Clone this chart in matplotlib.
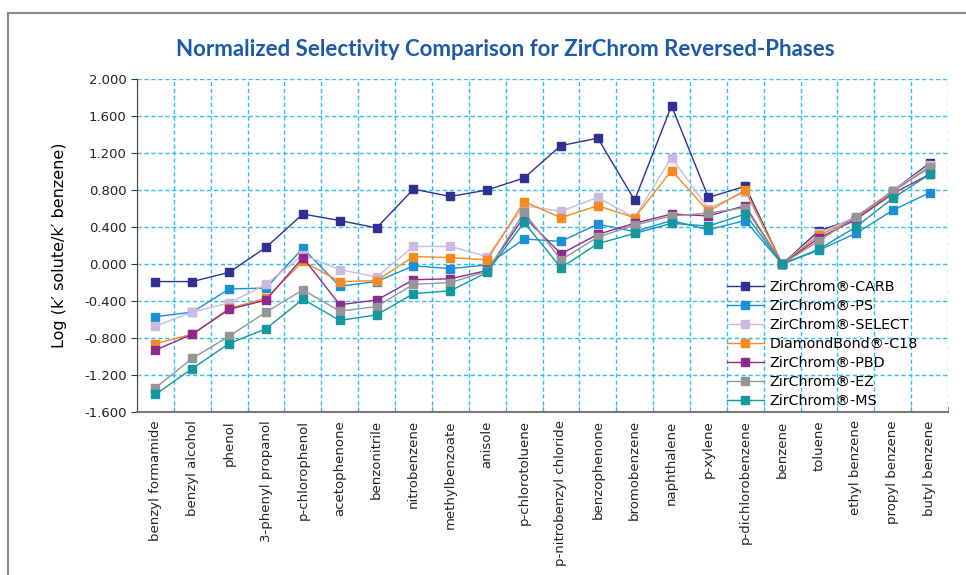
import matplotlib
matplotlib.use('Agg')
import matplotlib.pyplot as plt
from matplotlib.patches import Rectangle
import numpy as np

solutes = ['benzyl formamide', 'benzyl alcohol', 'phenol', '3-phenyl propanol',
           'p-chlorophenol', 'acetophenone', 'benzonitrile', 'nitrobenzene',
           'methylbenzoate', 'anisole', 'p-chlorotoluene', 'p-nitrobenzyl chloride',
           'benzophenone', 'bromobenzene', 'naphthalene', 'p-xylene',
           'p-dichlorobenzene', 'benzene', 'toluene', 'ethyl benzene',
           'propyl benzene', 'butyl benzene']

carb = [-0.19, -0.19, -0.09, 0.18, 0.54, 0.47, 0.39, 0.81, 0.73, 0.80, 0.93, 1.28,
        1.36, 0.69, 1.71, 0.72, 0.84, 0.00, 0.36, 0.49, 0.79, 1.09]
ps = [-0.57, -0.52, -0.27, -0.26, 0.17, -0.24, -0.19, -0.02, -0.05, -0.01, 0.27, 0.245,
      0.43, 0.35, 0.47, 0.37, 0.47, 0.00, 0.15, 0.33, 0.58, 0.77]
select = [-0.67, -0.52, -0.42, -0.22, 0.10, -0.06, -0.14, 0.19, 0.19, 0.08, 0.63, 0.57,
          0.72, 0.50, 1.15, 0.60, 0.78, 0.00, 0.33, 0.51, 0.79, 1.07]
c18 = [-0.86, -0.76, -0.48, -0.37, 0.03, -0.19, -0.18, 0.08, 0.07, 0.045, 0.675, 0.50,
       0.63, 0.50, 1.01, 0.57, 0.80, 0.00, 0.31, 0.49, 0.78, 1.05]
pbd = [-0.93, -0.76, -0.49, -0.39, 0.07, -0.44, -0.39, -0.17, -0.16, -0.07, 0.51, 0.11,
       0.32, 0.44, 0.54, 0.52, 0.63, 0.00, 0.28, 0.48, 0.76, 0.97]
ez = [-1.34, -1.02, -0.78, -0.52, -0.28, -0.51, -0.46, -0.22, -0.20, -0.08, 0.56, 0.045,
      0.29, 0.42, 0.52, 0.55, 0.61, 0.00, 0.25, 0.51, 0.79, 1.04]
ms = [-1.41, -1.13, -0.86, -0.70, -0.38, -0.61, -0.55, -0.32, -0.29, -0.09, 0.45, -0.04,
      0.22, 0.33, 0.44, 0.41, 0.54, 0.00, 0.16, 0.40, 0.71, 0.97]

series = [
    ('ZirChrom®-CARB', carb, '#2E3192'),
    ('ZirChrom®-PS', ps, '#1B8FD6'),
    ('ZirChrom®-SELECT', select, '#CBB9DE'),
    ('DiamondBond®-C18', c18, '#F7891F'),
    ('ZirChrom®-PBD', pbd, '#8E2A8E'),
    ('ZirChrom®-EZ', ez, '#939598'),
    ('ZirChrom®-MS', ms, '#14979D'),
]

fig = plt.figure(figsize=(9.66, 5.75), dpi=100)
ax = fig.add_axes([137 / 966, 1 - 412 / 575, 811 / 966, 333 / 575])

# outer frame of the original figure
fig.patches.append(Rectangle((8 / 966, -0.05), 1.2, 1 - 13 / 575 + 0.05,
                             transform=fig.transFigure, fill=False,
                             edgecolor='#8a8a8a', linewidth=1.5))

x = np.arange(len(solutes))
for name, vals, col in series:
    ax.plot(x, vals, '-', color=col, linewidth=1.0, marker='s', markersize=5.5,
            markerfacecolor=col, markeredgecolor=col, label=name)

yt = np.round(np.arange(-1.6, 2.01, 0.4), 1)
ax.set_xlim(-0.5, len(solutes) - 0.5)
ax.set_ylim(-1.6, 2.0)
ax.set_yticks(yt)
ax.set_yticklabels([format(v + 0.0, '.3f') for v in yt], fontsize=9.5, color='#222222')
ax.set_xticks(x)
ax.set_xticklabels(solutes, rotation=90, fontsize=9.5, color='#222222')
ax.set_xticks(np.arange(-0.5, len(solutes), 1), minor=True)
ax.tick_params(axis='x', which='major', length=0, pad=6)
ax.tick_params(axis='x', which='minor', length=4, direction='in', color='#29b6e8')
ax.tick_params(axis='y', length=4, color='#333333')

for v in np.arange(-0.5, len(solutes), 1):
    ax.axvline(v, color='#2CC0EE', linestyle=(0, (3, 2)), linewidth=1.0, zorder=0)
for v in yt[1:]:
    ax.axhline(v, color='#2CC0EE', linestyle=(0, (3, 2)), linewidth=1.0, zorder=0)

ax.spines['top'].set_visible(False)
ax.spines['right'].set_visible(False)
ax.spines['left'].set_color('#444444')
ax.spines['bottom'].set_color('#777777')
ax.spines['bottom'].set_linewidth(1.5)

ax.set_ylabel('Log (k′ solute/k′ benzene)', fontsize=11.5, labelpad=12)

fig.text(505 / 966, 1 - 50 / 575, 'Normalized Selectivity Comparison for ZirChrom Reversed-Phases',
         ha='center', va='center', fontsize=16, fontweight='bold', color='#1C5AA8',
         family='Lato')

ax.legend(loc='upper left', bbox_to_anchor=(0.72, 0.415), frameon=False, fontsize=10.3,
          handlelength=2.6, labelspacing=0.35, borderaxespad=0, handletextpad=0.4)

plt.savefig('out.png', dpi=100)
